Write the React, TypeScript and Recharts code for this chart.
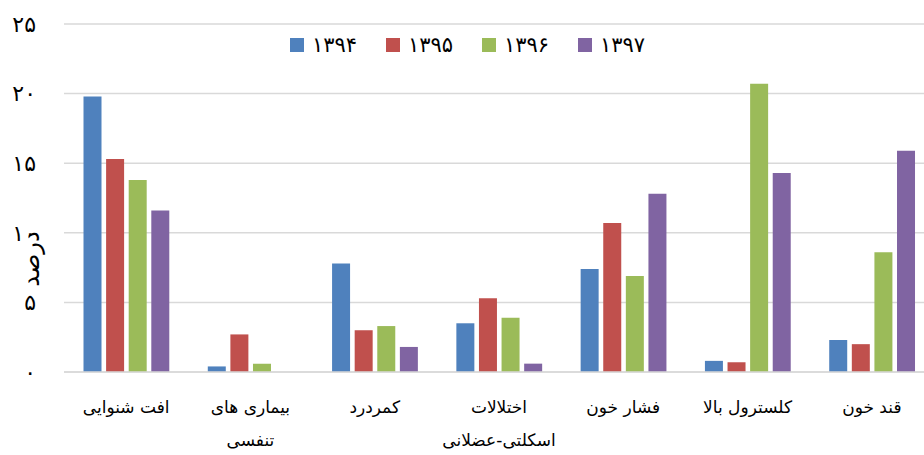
import React from 'react';
import { BarChart, Bar, XAxis, YAxis, CartesianGrid } from 'recharts';

const categories = [
  'افت شنوایی',
  'بیماری های\nتنفسی',
  'کمردرد',
  'اختلالات\nاسکلتی-عضلانی',
  'فشار خون',
  'کلسترول بالا',
  'قند خون',
];
const s1394 = [19.8, 0.4, 7.8, 3.5, 7.4, 0.8, 2.3];
const s1395 = [15.3, 2.7, 3.0, 5.3, 10.7, 0.7, 2.0];
const s1396 = [13.8, 0.6, 3.3, 3.9, 6.9, 20.7, 8.6];
const s1397 = [11.6, 0, 1.8, 0.6, 12.8, 14.3, 15.9];
const seriesNames = ['۱۳۹۴', '۱۳۹۵', '۱۳۹۶', '۱۳۹۷'];
const seriesKeys = ['y1394', 'y1395', 'y1396', 'y1397'];
const colors = ['#4F81BD', '#C0504D', '#9BBB59', '#8064A2'];
const yTicks = [0, 5, 10, 15, 20, 25];
const yTickLabels = ['۰', '۵', '۱۰', '۱۵', '۲۰', '۲۵'];
const yTitle = 'درصد';

const data = categories.map((c, i) => ({
  name: c,
  y1394: s1394[i],
  y1395: s1395[i],
  y1396: s1396[i],
  y1397: s1397[i],
}));

const FONT = 'DejaVu Sans';

const XTick = (props: any) => {
  const { x, y, payload } = props;
  const lines = String(payload.value).split('\n');
  return (
    <g transform={`translate(${x},${y})`}>
      <text textAnchor="middle" fontFamily={FONT} fontSize={17} fill="#000" y={41}>
        {lines.map((l, i) => (
          <tspan key={i} x={0} dy={i === 0 ? 0 : 33}>
            {l}
          </tspan>
        ))}
      </text>
    </g>
  );
};

const LegendOverlay = () => (
  <div
    style={{
      position: 'absolute',
      top: 33,
      left: 290,
      display: 'flex',
      alignItems: 'center',
      fontFamily: FONT,
      fontSize: 21,
      lineHeight: '24px',
      color: '#000',
    }}
  >
    {seriesNames.map((n, i) => (
      <div key={n} style={{ display: 'flex', alignItems: 'center', width: 96 }}>
        <span style={{ display: 'inline-block', width: 14, height: 14, background: colors[i], marginRight: 8 }} />
        <span>{n}</span>
      </div>
    ))}
  </div>
);

const YTitle = () => (
  <text
    x={31}
    y={259}
    transform="rotate(-90 31 259)"
    textAnchor="middle"
    dominantBaseline="central"
    fontFamily={FONT}
    fontSize={24}
    fill="#000"
  >
    {yTitle}
  </text>
);

export default function App() {
  return (
    <div style={{ position: 'absolute', left: 0, top: 0, width: 924, height: 455, overflow: 'hidden', background: '#fff' }}>
      <BarChart
        width={934}
        height={455}
        data={data}
        margin={{ top: 24, right: 0, bottom: 0, left: 0 }}
        barCategoryGap={19.5}
        barGap={4.6}
      >
        <CartesianGrid vertical={false} stroke="#D9D9D9" strokeWidth={1.5} />
        <XAxis
          dataKey="name"
          axisLine={{ stroke: '#D9D9D9', strokeWidth: 1.5 }}
          tickLine={false}
          tickSize={0}
          tickMargin={0}
          height={83}
          interval={0}
          tick={<XTick />}
        />
        <YAxis
          width={64}
          domain={[0, 25]}
          ticks={yTicks}
          axisLine={false}
          tickLine={false}
          tickSize={6}
          tickMargin={22}
          tickFormatter={(v: number) => yTickLabels[yTicks.indexOf(v)]}
          tick={{ fontFamily: FONT, fontSize: 22, fill: '#000' }}
          label={<YTitle />}
        />
        {seriesKeys.map((k, i) => (
          <Bar key={k} dataKey={k} name={seriesNames[i]} fill={colors[i]} isAnimationActive={false} />
        ))}
      </BarChart>
      <LegendOverlay />
    </div>
  );
}
